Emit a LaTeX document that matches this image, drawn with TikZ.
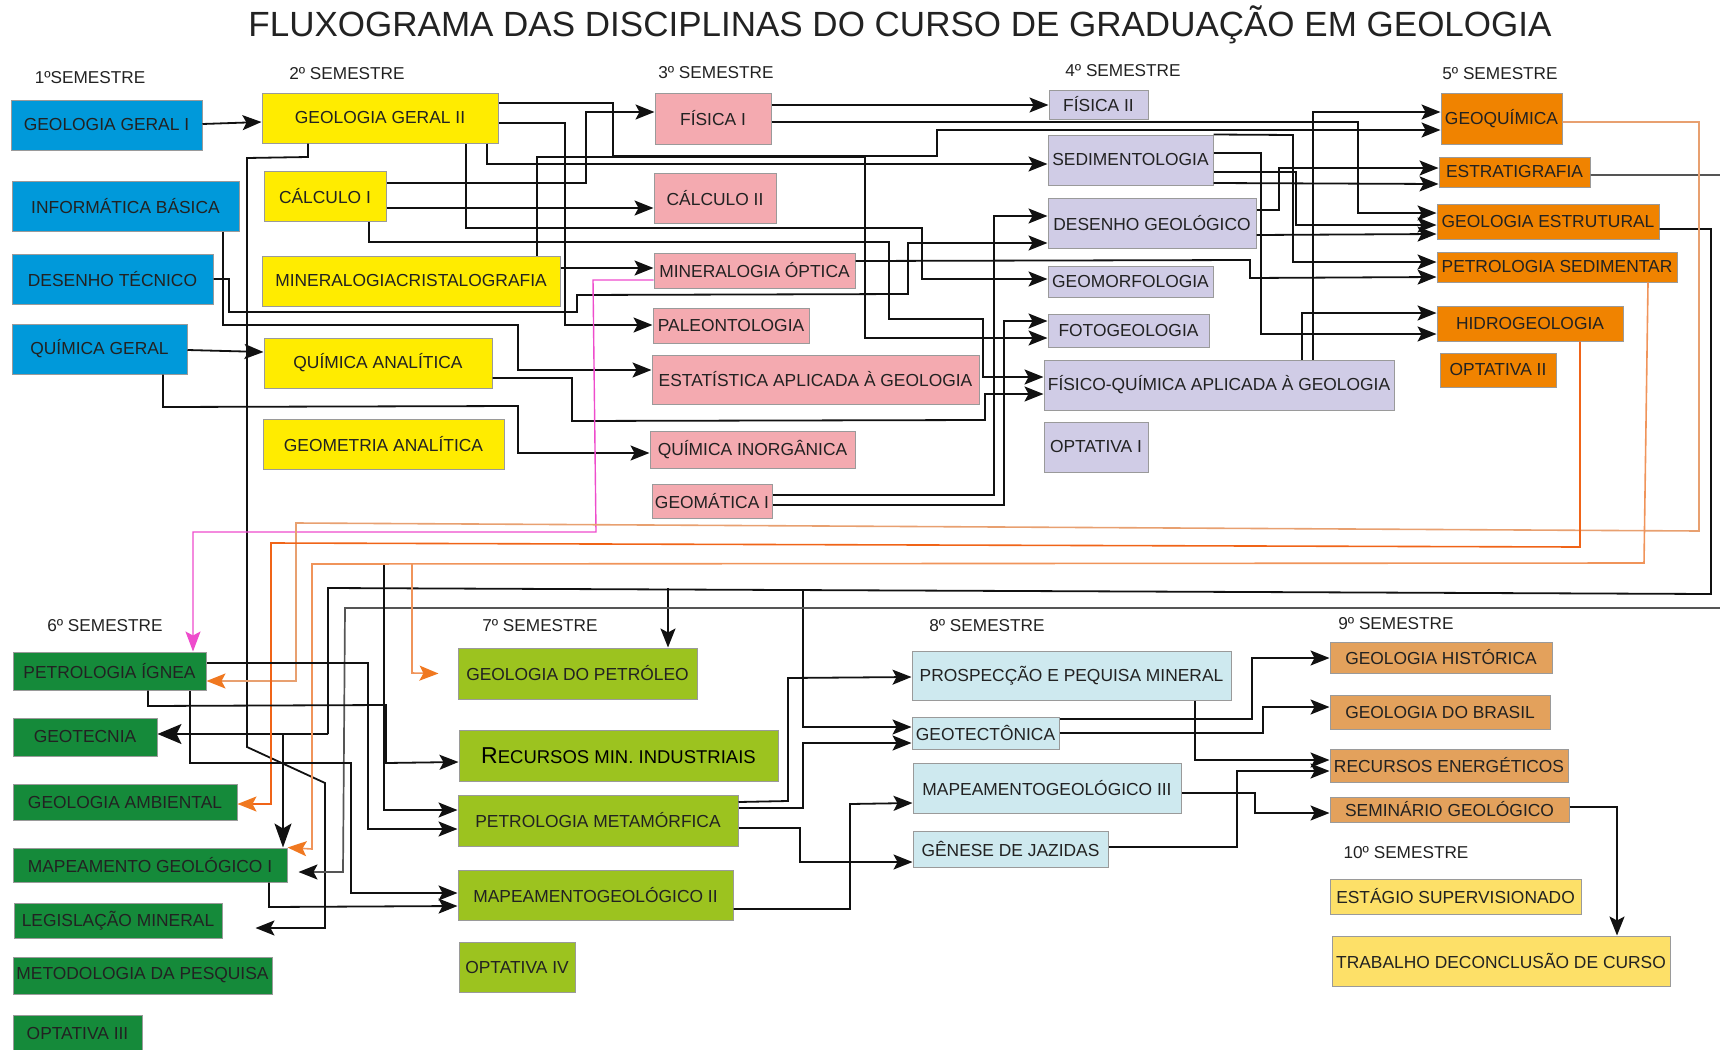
\documentclass[tikz,border=0pt]{standalone}
\usepackage{fontspec}
\setmainfont{Liberation Sans}
\usepackage{tikz}
\usetikzlibrary{arrows.meta,calc,positioning}
\definecolor{azul}{HTML}{0099DA}
\definecolor{amarelo}{HTML}{FFEC00}
\definecolor{rosa}{HTML}{F4AAB0}
\definecolor{lilas}{HTML}{D0CCE6}
\definecolor{laranja}{HTML}{F08300}
\definecolor{verde}{HTML}{158A3A}
\definecolor{verdeclaro}{HTML}{9CC31F}
\definecolor{ciano}{HTML}{CEE9EF}
\definecolor{ocre}{HTML}{E3A15C}
\definecolor{amareloclaro}{HTML}{FDE068}
\definecolor{borda}{HTML}{9A9A9A}
\definecolor{texto}{HTML}{222222}
\definecolor{preto}{HTML}{111111}
\definecolor{cinza}{HTML}{555555}
\definecolor{bege}{HTML}{E8A070}
\definecolor{vermelho}{HTML}{F06418}
\definecolor{salmao}{HTML}{F0945A}
\definecolor{setalaranja}{HTML}{F07820}
\definecolor{magenta}{HTML}{EE4CCC}

\begin{document}
\begin{tikzpicture}[x=1pt,y=-1pt,
  disc/.style={draw=borda,line width=1pt,inner sep=0pt,text=texto,font=\fontsize{17.4}{20}\selectfont},
  sem/.style={text=texto,font=\fontsize{17.2}{20}\selectfont},
  liga/.style={draw=preto,line width=1.8pt,-{Stealth[length=19pt,width=15pt,inset=4pt]}},
  traco/.style={draw=preto,line width=1.8pt},
  cor/.style={draw=#1,line width=1.6pt,-{Stealth[length=19pt,width=15pt,inset=4pt,color=setalaranja]}}]
\useasboundingbox (0,0) rectangle (1720,1049);
\clip (0,0) rectangle (1720,1049);

\node[text=texto,font=\fontsize{35}{40}\selectfont] (tit) at (900,25) {FLUXOGRAMA DAS DISCIPLINAS DO CURSO DE GRADUAÇÃO EM GEOLOGIA};

% semestres
\node[sem] (s1) at (90,78) {1ºSEMESTRE};
\node[sem] (s2) at (347,74) {2º SEMESTRE};
\node[sem] (s3) at (716,73) {3º SEMESTRE};
\node[sem] (s4) at (1123,71) {4º SEMESTRE};
\node[sem] (s5) at (1500,74) {5º SEMESTRE};
\node[sem] (s6) at (105,626) {6º SEMESTRE};
\node[sem] (s7) at (540,626) {7º SEMESTRE};
\node[sem] (s8) at (987,626) {8º SEMESTRE};
\node[sem] (s9) at (1396,624) {9º SEMESTRE};
\node[sem] (s10) at (1406,853) {10º SEMESTRE};

% 1o semestre
\node[disc,fill=azul,minimum width=191pt,minimum height=50pt] (gg1) at (106.5,125) {GEOLOGIA GERAL I};
\node[disc,fill=azul,minimum width=227pt,minimum height=50pt] (infb) at (125.5,206) {INFORMÁTICA BÁSICA};
\node[disc,fill=azul,minimum width=201pt,minimum height=50pt] (dtec) at (112.5,279) {DESENHO TÉCNICO};
\node[disc,fill=azul,minimum width=175pt,minimum height=50pt] (qger) at (99.5,349) {QUÍMICA GERAL};

% 2o semestre
\node[disc,fill=amarelo,minimum width=236pt,minimum height=50pt] (gg2) at (380,118) {GEOLOGIA GERAL II};
\node[disc,fill=amarelo,minimum width=122pt,minimum height=50pt] (calc1) at (325,196) {CÁLCULO I};
\node[disc,fill=amarelo,minimum width=298pt,minimum height=50pt] (mincr) at (411,281) {MINERALOGIACRISTALOGRAFIA};
\node[disc,fill=amarelo,minimum width=228pt,minimum height=50pt] (qana) at (378,363) {QUÍMICA ANALÍTICA};
\node[disc,fill=amarelo,minimum width=241pt,minimum height=50pt] (geoan) at (383.5,444) {GEOMETRIA ANALÍTICA};

% 3o semestre
\node[disc,fill=rosa,minimum width=116pt,minimum height=51pt] (fis1) at (713,118.5) {FÍSICA I};
\node[disc,fill=rosa,minimum width=122pt,minimum height=50pt] (calc2) at (715,198) {CÁLCULO II};
\node[disc,fill=rosa,minimum width=201pt,minimum height=35pt] (minop) at (754.5,270.5) {MINERALOGIA ÓPTICA};
\node[disc,fill=rosa,minimum width=156pt,minimum height=35pt] (paleo) at (731,325.5) {PALEONTOLOGIA};
\node[disc,fill=rosa,minimum width=327pt,minimum height=49pt] (estat) at (815.5,379.5) {ESTATÍSTICA APLICADA À GEOLOGIA};
\node[disc,fill=rosa,minimum width=205pt,minimum height=37pt] (qinor) at (752.5,449.5) {QUÍMICA INORGÂNICA};
\node[disc,fill=rosa,minimum width=120pt,minimum height=34pt] (geom1) at (712,501) {GEOMÁTICA I};

% 4o semestre
\node[disc,fill=lilas,minimum width=99pt,minimum height=29pt] (fis2) at (1098.5,104.5) {FÍSICA II};
\node[disc,fill=lilas,minimum width=165pt,minimum height=50pt] (sedim) at (1130.5,160) {SEDIMENTOLOGIA};
\node[disc,fill=lilas,minimum width=208pt,minimum height=50pt] (desgeo) at (1152,223) {DESENHO GEOLÓGICO};
\node[disc,fill=lilas,minimum width=165pt,minimum height=31pt] (geomorf) at (1130.5,281.5) {GEOMORFOLOGIA};
\node[disc,fill=lilas,minimum width=161pt,minimum height=33pt] (fotog) at (1128.5,330.5) {FOTOGEOLOGIA};
\node[disc,fill=lilas,minimum width=350pt,minimum height=50pt] (fisqui) at (1219,385) {FÍSICO-QUÍMICA APLICADA À GEOLOGIA};
\node[disc,fill=lilas,minimum width=104pt,minimum height=50pt] (opt1) at (1096,447) {OPTATIVA I};

% 5o semestre
\node[disc,fill=laranja,minimum width=121pt,minimum height=51pt] (geoq) at (1501.5,118.5) {GEOQUÍMICA};
\node[disc,fill=laranja,minimum width=151pt,minimum height=30pt] (estrat) at (1514.5,172) {ESTRATIGRAFIA};
\node[disc,fill=laranja,minimum width=222pt,minimum height=35pt] (gestr) at (1548,221.5) {GEOLOGIA ESTRUTURAL};
\node[disc,fill=laranja,minimum width=240pt,minimum height=30pt] (psed) at (1557,267) {PETROLOGIA SEDIMENTAR};
\node[disc,fill=laranja,minimum width=186pt,minimum height=35pt] (hidro) at (1530,323.5) {HIDROGEOLOGIA};
\node[disc,fill=laranja,minimum width=116pt,minimum height=34pt] (opt2) at (1498,370) {OPTATIVA II};

% 6o semestre
\node[disc,fill=verde,minimum width=193pt,minimum height=38pt] (pign) at (109.5,671) {PETROLOGIA ÍGNEA};
\node[disc,fill=verde,minimum width=144pt,minimum height=38pt] (geotec) at (85,737) {GEOTECNIA};
\node[disc,fill=verde,minimum width=224pt,minimum height=36pt] (gamb) at (125,802) {GEOLOGIA AMBIENTAL};
\node[disc,fill=verde,minimum width=274pt,minimum height=34pt] (map1) at (150,865) {MAPEAMENTO GEOLÓGICO I};
\node[disc,fill=verde,minimum width=208pt,minimum height=35pt] (legis) at (118,920.5) {LEGISLAÇÃO MINERAL};
\node[disc,fill=verde,minimum width=259pt,minimum height=37pt] (metod) at (142.5,975.5) {METODOLOGIA DA PESQUISA};
\node[disc,fill=verde,minimum width=129pt,minimum height=37pt] (opt3) at (77.5,1033.5) {OPTATIVA III};

% 7o semestre
\node[disc,fill=verdeclaro,minimum width=239pt,minimum height=51pt] (gpetr) at (577.5,673.5) {GEOLOGIA DO PETRÓLEO};
\node[disc,fill=verdeclaro,minimum width=319pt,minimum height=51pt,text=black,font=\fontsize{18.5}{20}\selectfont] (recmin) at (618.5,755.5) {{\fontsize{23}{24}\selectfont R}ECURSOS MIN. INDUSTRIAIS};
\node[disc,fill=verdeclaro,minimum width=280pt,minimum height=51pt] (pmeta) at (598,820.5) {PETROLOGIA METAMÓRFICA};
\node[disc,fill=verdeclaro,minimum width=275pt,minimum height=50pt] (map2) at (595.5,895) {MAPEAMENTOGEOLÓGICO II};
\node[disc,fill=verdeclaro,minimum width=116pt,minimum height=50pt] (opt4) at (517,967) {OPTATIVA IV};

% 8o semestre
\node[disc,fill=ciano,minimum width=319pt,minimum height=49pt] (prosp) at (1071.5,675.5) {PROSPECÇÃO E PEQUISA MINERAL};
\node[disc,fill=ciano,minimum width=147pt,minimum height=32pt] (geotect) at (985.5,733) {GEOTECTÔNICA};
\node[disc,fill=ciano,minimum width=268pt,minimum height=50pt] (map3) at (1047,788) {MAPEAMENTOGEOLÓGICO III};
\node[disc,fill=ciano,minimum width=195pt,minimum height=36pt] (genese) at (1010.5,849) {GÊNESE DE JAZIDAS};

% 9o e 10o semestres
\node[disc,fill=ocre,minimum width=222pt,minimum height=31pt] (ghist) at (1441,657.5) {GEOLOGIA HISTÓRICA};
\node[disc,fill=ocre,minimum width=220pt,minimum height=34pt] (gbras) at (1440,712) {GEOLOGIA DO BRASIL};
\node[disc,fill=ocre,minimum width=238pt,minimum height=33pt] (recen) at (1449,765.5) {RECURSOS ENERGÉTICOS};
\node[disc,fill=ocre,minimum width=239pt,minimum height=25pt] (semin) at (1449.5,809.5) {SEMINÁRIO GEOLÓGICO};
\node[disc,fill=amareloclaro,minimum width=251pt,minimum height=35pt] (estag) at (1455.5,896.5) {ESTÁGIO SUPERVISIONADO};
\node[disc,fill=amareloclaro,minimum width=338pt,minimum height=50pt] (tcc) at (1501,961) {TRABALHO DECONCLUSÃO DE CURSO};

% ligacoes 1o -> 2o -> 3o
\draw[liga] (gg1.east |- 0,124) -- (gg2.west |- 0,122);
\draw[liga] (qger.east |- 0,350) -- (qana.west |- 0,352);
\draw[liga] (gg2.east |- 0,103) -- (613,103) -- (613,156) -- (937,156) -- (937,130) -- (geoq.west |- 0,130);
\draw[liga] (mincr.north -| 537,0) -- (537,157) -- (865,157) -- (865,338) -- (fotog.west |- 0,338);
\draw[liga] (gg2.east |- 0,123) -- (565,123) -- (565,325) -- (paleo.west |- 0,325);
\draw[liga] (gg2.south -| 487,0) -- (487,164) -- (sedim.west |- 0,164);
\draw[liga] (gg2.south -| 466,0) -- (466,228) -- (922,228) -- (922,279) -- (geomorf.west |- 0,279);
\draw[liga] (gg2.south -| 308,0) -- (308,157) -- (247,158) -- (247,747) -- (325,783) -- (325,928) -- ($(legis.east)+(33,7.5)$);
\draw[liga] (calc1.east |- 0,183) -- (586,183) -- (586,112) -- (fis1.west |- 0,112);
\draw[liga] (calc1.east |- 0,208) -- (calc2.west |- 0,208);
\draw[liga] (calc1.south -| 369,0) -- (369,242) -- (889,242) -- (889,319) -- (983,319) -- (983,377) -- (fisqui.west |- 0,377);
\draw[liga] (mincr.east |- 0,268) -- (minop.west |- 0,268);
\draw[liga] (dtec.east |- 0,279) -- (229,279) -- (229,312) -- (577,312) -- (577,295) -- (908,294) -- (908,243) -- (desgeo.west |- 0,243);
\draw[liga] (infb.south -| 223,0) -- (223,325) -- (518,325) -- (518,370) -- (estat.west |- 0,370);
\draw[liga] (qger.south -| 163,0) -- (163,407) -- (518,406) -- (518,453) -- (qinor.west |- 0,453);
\draw[liga] (qana.east |- 0,378) -- (572,378) -- (572,421) -- (985,420) -- (985,394) -- (fisqui.west |- 0,394);

% 3o -> 4o -> 5o
\draw[liga] (fis1.east |- 0,105) -- (fis2.west |- 0,105);
\draw[liga] (fis1.east |- 0,122) -- (1358,122) -- (1358,213) -- (gestr.west |- 0,213);
\draw[liga] (geom1.east |- 0,495) -- (994,495) -- (994,216) -- (desgeo.west |- 0,216);
\draw[liga] (geom1.east |- 0,505) -- (1004,505) -- (1004,321) -- (fotog.west |- 0,321);
\draw[liga] (minop.east |- 0,261) -- (1250,260) -- (1250,278) -- (psed.west |- 0,277);
\draw[liga] (sedim.east |- 0,172) -- (1296,172) -- (1296,225) -- (gestr.west |- 0,225);
\draw[liga] (sedim.north east) -- (1293,135) -- (1293,262) -- (psed.west |- 0,262);
\draw[liga] (sedim.east |- 0,153) -- (1261,153) -- (1261,334) -- (hidro.west |- 0,334);
\draw[liga] (sedim.east |- 0,183) -- (estrat.west |- 0,184);
\draw[liga] (desgeo.east |- 0,210) -- (1279,210) -- (1279,168) -- (estrat.west |- 0,168);
\draw[liga] (desgeo.east |- 0,235) -- (gestr.west |- 0,234);
\draw[liga] (fisqui.north -| 1313,0) -- (1313,112) -- (geoq.west |- 0,112);
\draw[liga] (fisqui.north -| 1302,0) -- (1302,313) -- (hidro.west |- 0,313);

% mineralogia optica -> petrologia ignea
\draw[line width=1.4pt,draw=magenta,-{Stealth[length=20pt,width=15pt,inset=4pt]}] (minop.west |- 0,280) -- (593,280) -- (596,532) -- (193,532) -- (pign.north -| 193,0);

% 5o -> 6o, 7o e 8o
\draw[traco] (gestr.east |- 0,229) -- (1711,229) -- (1711,594) -- (328,588) -- (328,734);
\draw[draw=preto,line width=1.8pt,-{Stealth[length=24pt,width=20pt,inset=5pt]}] (328,734) -- (geotec.east |- 0,734);
\coordinate (jtec) at (283,734);
\coordinate (jpet) at (668,588);
\coordinate (jtect) at (803,590);
\draw[draw=preto,line width=1.8pt,-{Stealth[length=24pt,width=17pt,inset=5pt]}] (jtec) -- (map1.north -| 283,0);
\draw[liga] (jpet) -- (gpetr.north -| 668,0);
\draw[liga] (jtect) -- (803,727) -- (geotect.west |- 0,727);

\draw[draw=cinza,line width=1.7pt,-{Stealth[length=19pt,width=15pt,inset=4pt,color=preto]}] (estrat.east |- 0,175) -- (1730,175) -- (1730,608) -- (345,608) -- (343,872) -- ($(map1.east)+(11,7)$);

\coordinate (jmeta) at (384,564);
\draw[liga] (jmeta) -- (384,810) -- (pmeta.west |- 0,810);
\draw[cor=bege] (geoq.east |- 0,122) -- (1699,122) -- (1699,531) -- (296,523) -- (296,681) -- (pign.east |- 0,681);
\draw[cor=vermelho] (hidro.south -| 1580,0) -- (1580,547) -- (271,543) -- (271,804) -- (gamb.east |- 0,804);
\draw[cor=salmao] (psed.south -| 1648,0) -- (1644,563) -- (312,564) -- (312,849) -- (map1.north east);
\coordinate (jpetr) at (412,564);
\draw[cor=salmao] (jpetr) -- (412,673) -- ($(gpetr.west)+(-19,0)$);

% 6o -> 7o
\draw[liga] (pign.east |- 0,663) -- (368,663) -- (368,829) -- (pmeta.west |- 0,829);
\draw[liga] (pign.south -| 148,0) -- (148,706) -- (386,705) -- (386,763) -- (recmin.west |- 0,762);
\draw[liga] (pign.south -| 190,0) -- (190,763) -- (351,763) -- (351,893) -- (map2.west |- 0,893);
\draw[liga] (map1.south -| 269,0) -- (269,907) -- (map2.west |- 0,906);

% 7o -> 8o
\draw[liga] (pmeta.east |- 0,802) -- (788,801) -- (788,678) -- (prosp.west |- 0,677);
\draw[liga] (pmeta.east |- 0,808) -- (803,808) -- (803,743) -- (geotect.west |- 0,743);
\draw[liga] (pmeta.east |- 0,828) -- (800,828) -- (800,862) -- (genese.west |- 0,862);
\draw[liga] (map2.east |- 0,909) -- (850,909) -- (850,804) -- (map3.west |- 0,803);

% 8o -> 9o -> 10o
\draw[liga] (prosp.south -| 1195,0) -- (1195,760) -- (recen.west |- 0,760);
\draw[liga] (geotect.east |- 0,719) -- (1252,719) -- (1252,658) -- (ghist.west |- 0,658);
\draw[liga] (geotect.east |- 0,733) -- (1263,733) -- (1263,707) -- (gbras.west |- 0,707);
\draw[liga] (map3.east |- 0,793) -- (1255,793) -- (1255,813) -- (semin.west |- 0,813);
\draw[liga] (genese.east |- 0,847) -- (1237,847) -- (1237,771) -- (recen.west |- 0,771);
\draw[liga] (semin.east |- 0,807) -- (1617,807) -- (tcc.north -| 1617,0);
\end{tikzpicture}
\end{document}
